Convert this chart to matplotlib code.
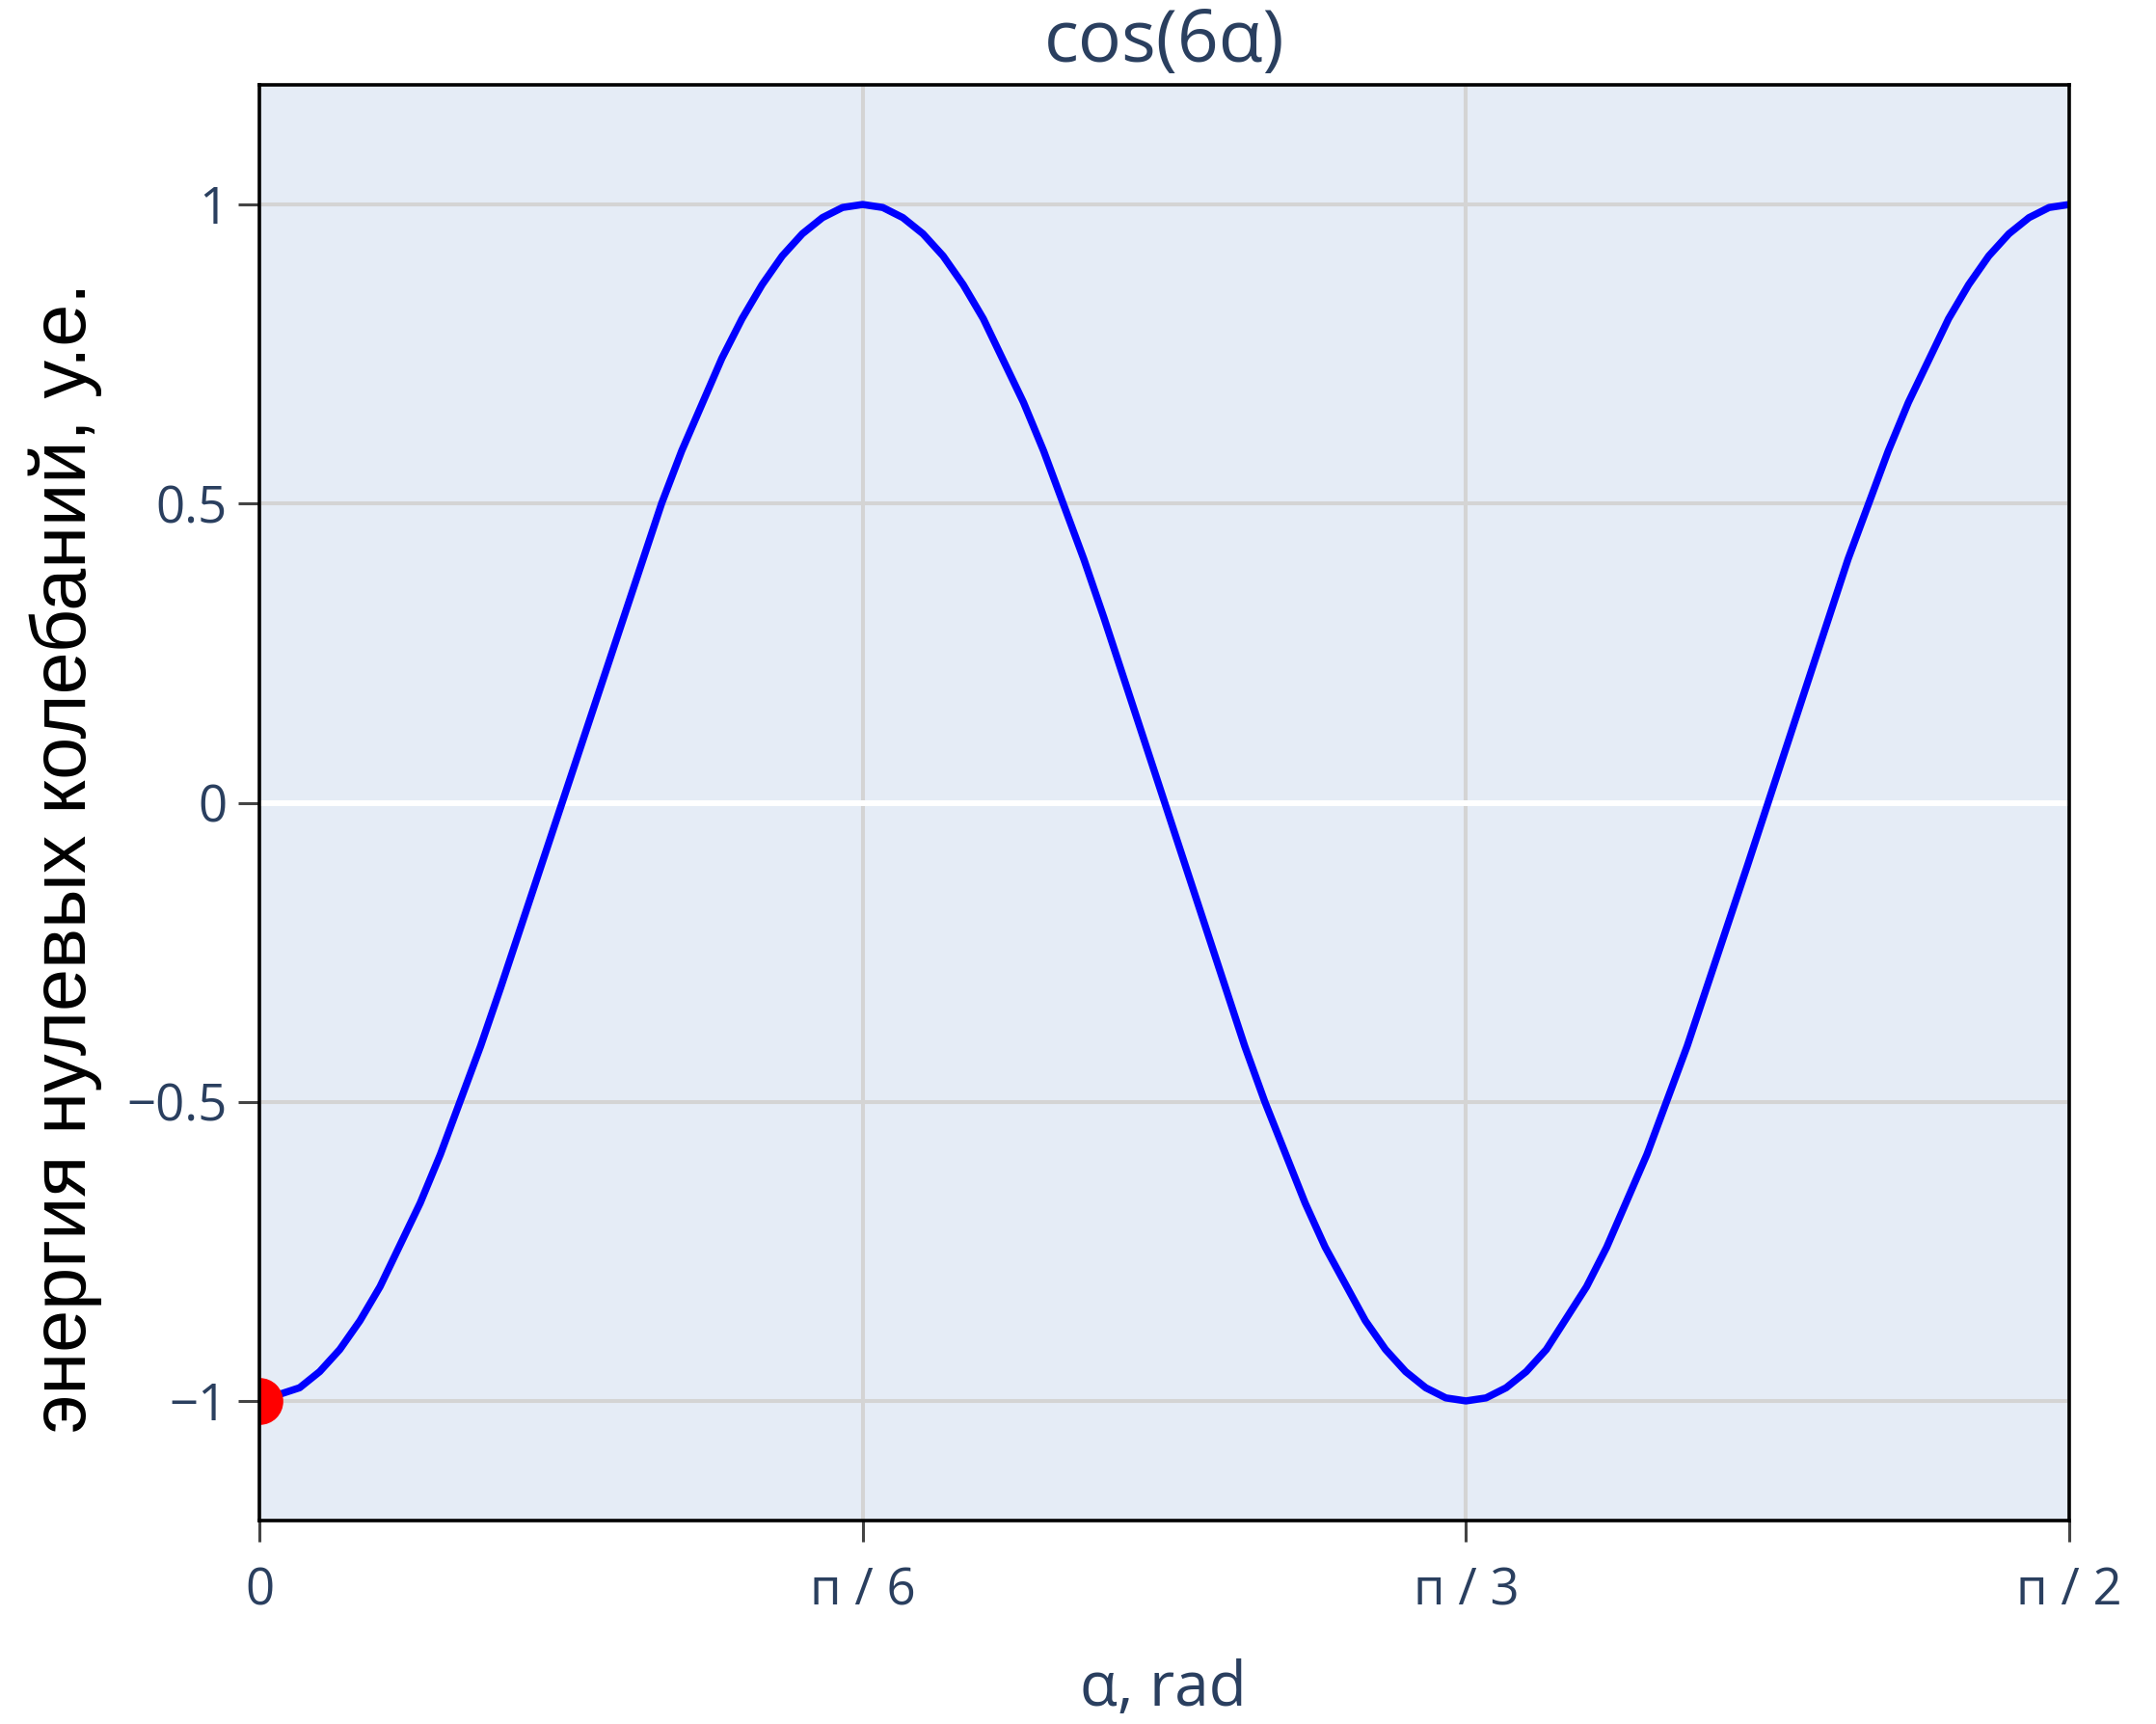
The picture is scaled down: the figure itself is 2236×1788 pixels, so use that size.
import numpy as np
import matplotlib
matplotlib.use("Agg")
import matplotlib.pyplot as plt

# ---- data ----
alpha_deg = [0, 2, 3, 4, 5, 6, 8, 9, 11, 12, 20, 21, 23, 24, 25, 26, 27, 28, 29, 30,
             31, 32, 33, 34, 35, 36, 38, 39, 41, 42, 49, 50, 52, 53, 55, 56, 57, 58,
             59, 60, 61, 62, 63, 64, 66, 67, 69, 71, 74, 79, 81, 82, 84, 85, 86, 87,
             88, 89, 90]
energy = [-1.00, -0.978, -0.951, -0.914, -0.866, -0.809, -0.669, -0.588, -0.407, -0.309,
          0.500, 0.588, 0.743, 0.809, 0.866, 0.914, 0.951, 0.978, 0.995, 1.000,
          0.995, 0.978, 0.951, 0.914, 0.866, 0.809, 0.669, 0.588, 0.407, 0.309,
          -0.407, -0.500, -0.669, -0.743, -0.866, -0.914, -0.951, -0.978,
          -0.995, -1.000, -0.995, -0.978, -0.951, -0.914, -0.809, -0.743, -0.588,
          -0.407, -0.105, 0.407, 0.588, 0.669, 0.809, 0.866, 0.914, 0.951,
          0.978, 0.995, 1.000]
start_point_x = [0.0]
start_point_y = [-1.0]

xtick_vals = [0, np.pi / 6, np.pi / 3, np.pi / 2]
xtick_labels = ["0", "п / 6", "п / 3", "п / 2"]
ytick_vals = [-1, -0.5, 0, 0.5, 1]
ytick_labels = ["−1", "−0.5", "0", "0.5", "1"]

title = "cos(6α)"
xlabel = "α, rad"
ylabel = "энергия нулевых колебаний, у.е."

# ---- figure ----
W, H = 2236, 1788
fig = plt.figure(figsize=(W / 100, H / 100), dpi=100)
fig.patch.set_facecolor("white")

x0, x1 = 269, 2146
y0, y1 = 88, 1577
ax = fig.add_axes([x0 / W, 1 - y1 / H, (x1 - x0) / W, (y1 - y0) / H])
ax.set_facecolor("#E5ECF6")

tick_color = "#2a3f5f"
font = ["Open Sans", "DejaVu Sans"]

ax.set_xlim(0, np.pi / 2)
ax.set_ylim(-1.2, 1.2)

ax.grid(True, color="#d4d4d4", linewidth=2.9, zorder=0)
ax.set_axisbelow(True)
ax.axhline(0, color="white", linewidth=4.3, zorder=1)

x = np.radians(alpha_deg)
ax.plot(x, energy, color="#0000ff", linewidth=5.4, zorder=2, solid_joinstyle="round")
ax.plot(start_point_x, start_point_y, "o", color="#ff0000", markersize=35,
        markeredgewidth=0, zorder=2.2)

ax.set_xticks(xtick_vals)
ax.set_xticklabels(xtick_labels)
ax.set_yticks(ytick_vals)
ax.set_yticklabels(ytick_labels)

ax.tick_params(axis="both", direction="out", length=15.8, width=2.2,
               color="#444444", labelcolor=tick_color, labelsize=38)
ax.tick_params(axis="y", pad=8)
ax.tick_params(axis="x", pad=18)
for lab in ax.get_xticklabels() + ax.get_yticklabels():
    lab.set_family(font)

for sp in ax.spines.values():
    sp.set_color("black")
    sp.set_linewidth(2.6)
    sp.set_zorder(3)

fig.text((268 + 2147) / 2 / W, 1 - 45 / H, title, ha="center", va="center",
         fontsize=54, color=tick_color, family=font)
fig.text(1206 / W, 1 - 1752 / H, xlabel, ha="center", va="center",
         fontsize=46, color=tick_color, family=font)
fig.text(68 / W, 1 - 889 / H, ylabel, ha="center", va="center", rotation=90,
         fontsize=57, color="black", family=["Liberation Sans", "DejaVu Sans"])

fig.savefig("out.png", dpi=100, facecolor="white")
